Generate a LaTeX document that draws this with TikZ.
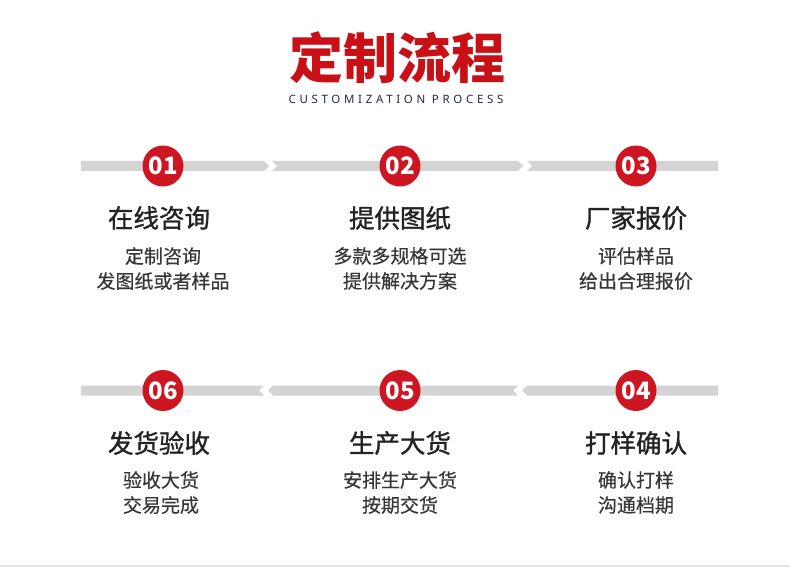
\documentclass[tikz,border=0pt]{standalone}
\usepackage{fontspec}
\setmainfont{Noto Sans CJK SC}
\newfontfamily\latinsub{Noto Sans}[LetterSpace=32]
\newfontfamily\medcjk{Noto Sans CJK SC}[FakeBold=1.2]
\newfontfamily\subcjk{Noto Sans CJK SC}[FakeBold=0.4]
\definecolor{redmain}{RGB}{200,16,22}
\definecolor{circred}{RGB}{206,22,34}
\definecolor{bargray}{RGB}{212,212,212}
\definecolor{navy}{RGB}{30,40,70}
\definecolor{titlegray}{RGB}{35,35,35}
\definecolor{subgray}{RGB}{55,55,55}
\begin{document}
\begin{tikzpicture}[x=1pt,y=-1pt,
  barseg/.style={fill=bargray,draw=none},
  numcirc/.style={circle,fill=circred,minimum size=41pt,inner sep=0pt,text=white,font=\bfseries\fontsize{24}{24}\selectfont},
  steptitle/.style={text=titlegray,font=\medcjk\fontsize{25.5}{25.5}\selectfont,anchor=center,inner sep=0pt},
  stepsub/.style={text=subgray,font=\subcjk\fontsize{19}{25}\selectfont,align=center,anchor=north,inner sep=0pt}]
\useasboundingbox (0,0) rectangle (790,567);
\fill[white] (0,0) rectangle (790,567);
% header
\node[text=redmain,font=\bfseries\fontsize{54}{54}\selectfont,inner sep=0pt] (title) at (397,58) {定制流程};
\node[text=navy,font=\latinsub\fontsize{11.5}{11.5}\selectfont,inner sep=0pt] (subtitle) at (396,99) {CUSTOMIZATION PROCESS};
% top row bars (pointing right)
\fill[barseg] (81,161) -- (264,161) -- (269,166) -- (264,171) -- (81,171) -- cycle;
\fill[barseg] (272,161) -- (518,161) -- (523,166) -- (518,171) -- (272,171) -- (277,166) -- cycle;
\fill[barseg] (527,161) -- (718,161) -- (718,171) -- (527,171) -- (532,166) -- cycle;
% bottom row bars (pointing left)
\fill[barseg] (718,385.5) -- (718,395.5) -- (527,395.5) -- (522,390.5) -- (527,385.5) -- cycle;
\fill[barseg] (518,385.5) -- (513,390.5) -- (518,395.5) -- (273,395.5) -- (268,390.5) -- (273,385.5) -- cycle;
\fill[barseg] (264,385.5) -- (259,390.5) -- (264,395.5) -- (81,395.5) -- (81,385.5) -- cycle;
% circles
\node[numcirc] (n1) at (163,166) {01};
\node[numcirc] (n2) at (400,166) {02};
\node[numcirc] (n3) at (636,166) {03};
\node[numcirc] (n6) at (163,390.5) {06};
\node[numcirc] (n5) at (400,390.5) {05};
\node[numcirc] (n4) at (636,390.5) {04};
% top texts
\node[steptitle] (t1) at (159,218) {在线咨询};
\node[steptitle] (t2) at (400,218) {提供图纸};
\node[steptitle] (t3) at (636,218) {厂家报价};
\node[stepsub] (s1) at (163,247) {定制咨询\\发图纸或者样品};
\node[stepsub] (s2) at (400,247) {多款多规格可选\\提供解决方案};
\node[stepsub] (s3) at (636,247) {评估样品\\给出合理报价};
% bottom texts
\node[steptitle] (t6) at (159,443) {发货验收};
\node[steptitle] (t5) at (400,443) {生产大货};
\node[steptitle] (t4) at (636,443) {打样确认};
\node[stepsub] (s6) at (161,471) {验收大货\\交易完成};
\node[stepsub] (s5) at (400,471) {安排生产大货\\按期交货};
\node[stepsub] (s4) at (636,471) {确认打样\\沟通档期};
% bottom rule
\fill[black!10] (0,565) rectangle (790,567);
\end{tikzpicture}
\end{document}
